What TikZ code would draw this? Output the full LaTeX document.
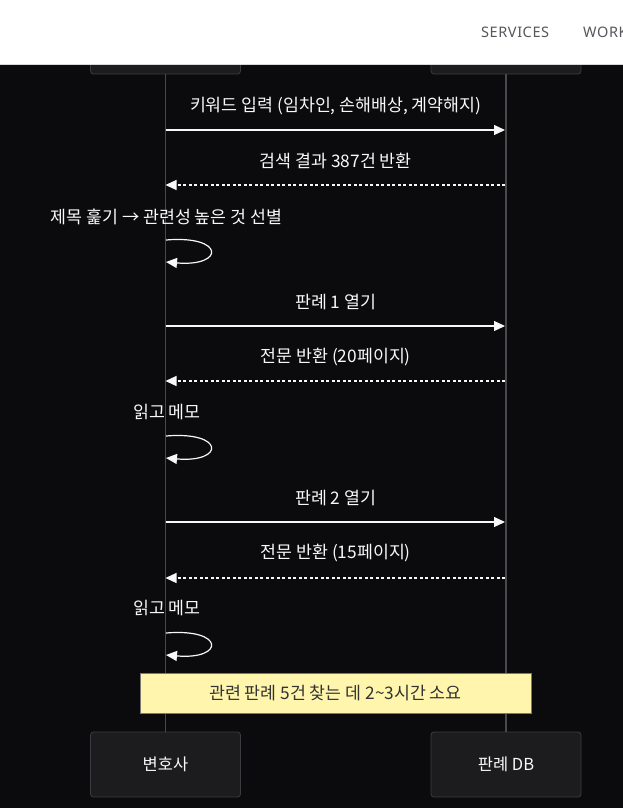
\documentclass[tikz,border=0pt]{standalone}
\usepackage{fontspec}
\setmainfont{Noto Sans CJK KR}
\newfontfamily\hdrfont[LetterSpace=4]{Noto Sans}
\usetikzlibrary{arrows.meta}
\definecolor{bg}{HTML}{0B0B0D}
\definecolor{boxfill}{HTML}{1C1C1E}
\definecolor{boxline}{HTML}{3C3C40}
\definecolor{life}{HTML}{48484D}
\definecolor{txt}{HTML}{F8F8F8}
\definecolor{notefill}{HTML}{FFF5AD}
\definecolor{noteline}{HTML}{7A7A70}
\definecolor{notetxt}{HTML}{333333}
\definecolor{hdrtxt}{HTML}{55575C}
\tikzset{
  actor/.style={draw=boxline, fill=boxfill, rounded corners=3pt, line width=0.8pt,
    minimum width=150pt, minimum height=65pt, text=txt, font=\fontsize{16.5}{19}\selectfont},
  msgtext/.style={text=txt, font=\fontsize{17.3}{20}\selectfont, inner sep=0pt},
  lifeline/.style={draw=life, line width=1.6pt},
  callarrow/.style={draw=txt, line width=1.2pt, -{Triangle[length=11pt,width=10pt]}},
  retarrow/.style={draw=txt, line width=1.2pt, dash pattern=on 3pt off 2.5pt, -{Triangle[length=11pt,width=10pt]}},
  notebox/.style={draw=noteline, fill=notefill, line width=0.8pt, minimum width=391pt,
    minimum height=40pt, text=notetxt, font=\fontsize{17.3}{20}\selectfont}
}
\begin{document}
\begin{tikzpicture}[x=1pt,y=-1pt]
\useasboundingbox (0,0) rectangle (623,808);
\fill[bg] (0,0) rectangle (623,808);

% top actor boxes (mostly hidden under header)
\node[actor] (topA) at (165.5,41.5) {};
\node[actor] (topB) at (506,41.5) {};
% bottom actor boxes
\node[actor] (botA) at (165.5,764.5) {변호사};
\node[actor] (botB) at (506,764.5) {판례 DB};

% lifelines
\draw[lifeline] (topA.south) -- (botA.north);
\draw[lifeline] (topB.south) -- (botB.north);

% header
\fill[white] (0,0) rectangle (623,64);
\draw[draw=black!15, line width=0.8pt] (0,64) -- (623,64);
\node[text=hdrtxt, font=\hdrfont\fontsize{14.5}{17}\selectfont, anchor=west, inner sep=0pt] (svc) at (481,32) {SERVICES};
\node[text=hdrtxt, font=\hdrfont\fontsize{14.5}{17}\selectfont, anchor=west, inner sep=0pt] (wrk) at (583,32) {WORK};

% message points
\foreach \n/\y in {1/130,2/185,4/326,5/381,7/522,8/578}{
  \coordinate (a\n) at (165.5,\y);
  \coordinate (b\n) at (505,\y);
}

% messages
\node[msgtext] (t1) at (335.75,106) {키워드 입력 (임차인, 손해배상, 계약해지)};
\draw[callarrow] (a1) -- (b1);
\node[msgtext] (t2) at (335.75,161) {검색 결과 387건 반환};
\draw[retarrow] (b2) -- (a2);

\node[msgtext] (t3) at (166.5,217) {제목 훑기 → 관련성 높은 것 선별};
\coordinate (s3) at (166,240);
\coordinate (e3) at (166,262);
\draw[callarrow] (s3) .. controls (225,235) and (225,267) .. (e3);

\node[msgtext] (t4) at (335.75,302) {판례 1 열기};
\draw[callarrow] (a4) -- (b4);
\node[msgtext] (t5) at (335.75,357) {전문 반환 (20페이지)};
\draw[retarrow] (b5) -- (a5);

\node[msgtext] (t6) at (167,412) {읽고 메모};
\coordinate (s6) at (166,436);
\coordinate (e6) at (166,458);
\draw[callarrow] (s6) .. controls (225,431) and (225,463) .. (e6);

\node[msgtext] (t7) at (335.75,498) {판례 2 열기};
\draw[callarrow] (a7) -- (b7);
\node[msgtext] (t8) at (335.75,553) {전문 반환 (15페이지)};
\draw[retarrow] (b8) -- (a8);

\node[msgtext] (t9) at (167,608) {읽고 메모};
\coordinate (s9) at (166,633);
\coordinate (e9) at (166,655);
\draw[callarrow] (s9) .. controls (225,628) and (225,660) .. (e9);

% note
\node[notebox] (note) at (335.5,693) {관련 판례 5건 찾는 데 2\textasciitilde 3시간 소요};
\end{tikzpicture}
\end{document}
